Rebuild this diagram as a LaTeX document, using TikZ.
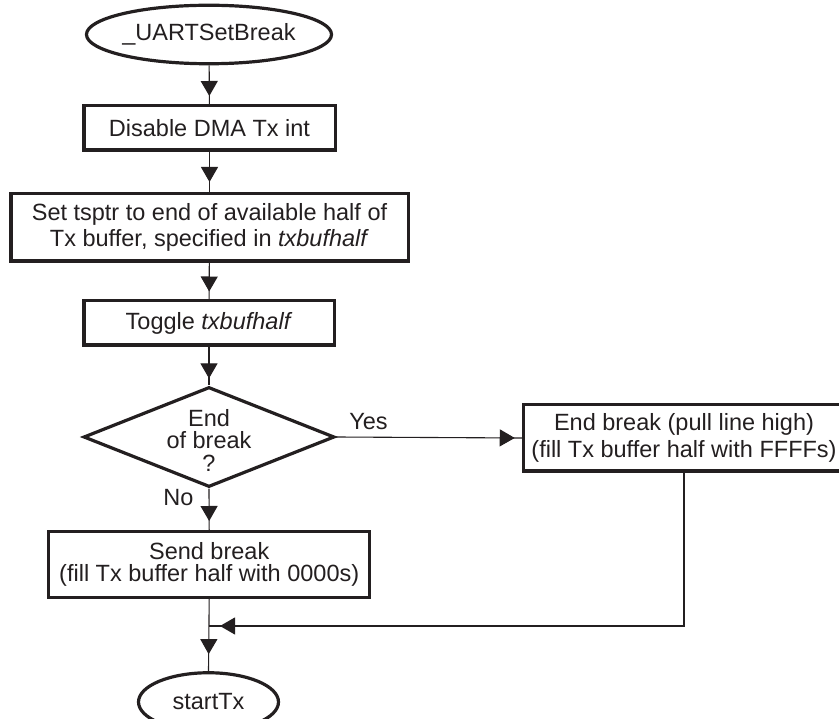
\documentclass[tikz,border=0pt]{standalone}
\usepackage{fontspec}
\setmainfont{Liberation Sans}
\usetikzlibrary{arrows.meta,shapes.geometric,decorations.markings}
\definecolor{ink}{RGB}{35,31,32}
\begin{document}
\begin{tikzpicture}[x=1pt,y=-1pt,
  every node/.style={text=ink, font=\fontsize{23.5}{26}\selectfont},
  box/.style={draw=ink, line width=3.5pt, rectangle, inner sep=0pt, align=center},
  term/.style={draw=ink, line width=3.2pt, ellipse, inner sep=0pt},
  decide/.style={draw=ink, line width=3.2pt, diamond, inner sep=0pt},
  conn/.style={draw=ink, line width=1.1pt},
  flow/.style={conn, postaction={decorate, decoration={markings,
      mark=at position -#1 with {\arrow{Triangle[length=15pt,width=17pt]}}}}},
  flow/.default=8pt]
\useasboundingbox (0,0) rectangle (839,719);
\clip (0,0) rectangle (839,719);

% nodes
\node[term, minimum width=232.5pt, minimum height=58.5pt] (start) at (209,34.5) {\_UARTSetBreak};
\node[box, minimum width=251.5pt, minimum height=44.5pt] (b1) at (209.5,128) {Disable DMA Tx int};
\node[box, minimum width=397.5pt, minimum height=67.5pt] (b2) at (209.5,227.5)
  {Set tsptr to end of available half of\\Tx buffer, specified in \textit{txbufhalf}};
\node[box, minimum width=250.5pt, minimum height=44.5pt] (b3) at (209,323) {Toggle \textit{txbufhalf}};
\node[decide, minimum width=251pt, minimum height=100pt] (dec) at (209,437) {};
\node[align=center, font=\fontsize{23.5}{22.5}\selectfont] (dectext) at (209,440) {End\\of break\\?};
\node[box, minimum width=321pt, minimum height=65.5pt, font=\fontsize{23.5}{22.6}\selectfont] (sb) at (209.2,564.5)
  {Send break\\(fill Tx buffer half with 0000s)};
\node[box, minimum width=321pt, minimum height=66.5pt, font=\fontsize{23.5}{26.7}\selectfont] (eb) at (684,438)
  {End break (pull line high)\\(fill Tx buffer half with FFFFs)};
\node[term, minimum width=140pt, minimum height=58.5pt] (stop) at (208.5,702) {startTx};
\coordinate (mrg) at (209,626);

% labels
\node (yes) at (368.5,421.5) {Yes};
\node (no) at (178.5,498) {No};

% connectors
\draw[flow=8pt] (start) -- (b1);
\draw[flow=10pt] (b1) -- (b2);
\draw[flow=7.5pt] (b2) -- (b3);
\draw[flow=7pt] (b3) -- (dec);
\draw[flow=7pt] (dec.east) -- (eb.west);
\draw[flow=9pt] (dec.south) -- (sb.north);
\draw[flow=17pt] (sb.south) -- (stop.north);
\draw[flow=11pt] (eb.south) |- (mrg);
\end{tikzpicture}
\end{document}
